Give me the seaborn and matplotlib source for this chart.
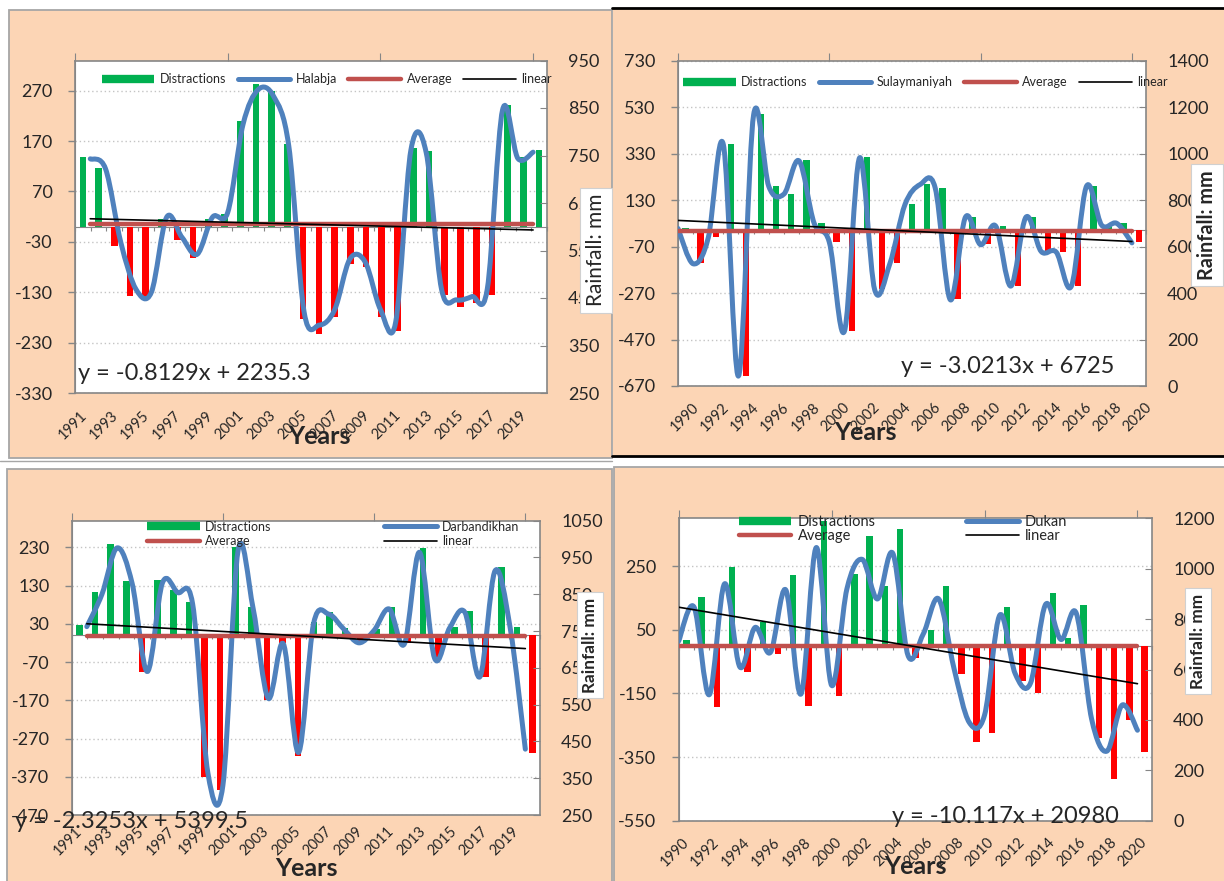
import numpy as np
import pandas as pd
import matplotlib.pyplot as plt
import seaborn as sns
from matplotlib.path import Path
from matplotlib.patches import PathPatch, Rectangle
from matplotlib.lines import Line2D
from matplotlib.transforms import ScaledTranslation

sns.set_style("white")
plt.rcParams['font.family'] = ['Lato', 'DejaVu Sans']
plt.rcParams['axes.unicode_minus'] = False

# ---------------- data ----------------
# Halabja
years_halabja = list(range(1991, 2021))
dev_halabja = [138, 117, -38, -137, -143, 15, -27, -63, 15, 25, 210, 284, 270, 165, -184,
               -212, -180, -73, -79, -179, -206, 157, 151, -136, -159, -152, -136, 241, 139, 152]
rain_halabja = [743, 722, 567, 468, 462, 620, 578, 542, 620, 630, 815, 889, 875, 770, 421,
                393, 425, 532, 526, 426, 399, 762, 756, 469, 446, 453, 469, 846, 744, 757]
avg_halabja = 605
trend_halabja = (-0.8129, 2235.3)

# Sulaymaniyah
years_sulay = list(range(1990, 2021))
dev_sulay = [10, -142, -30, 370, -625, 500, 191, 158, 301, 32, -49, -432, 314, -254, -142,
             113, 199, 184, -297, 59, -60, 20, -238, 59, -89, -92, -238, 192, 24, 32, -52]
rain_sulay = [678, 526, 638, 1038, 43, 1168, 859, 826, 969, 700, 619, 236, 982, 414, 526,
              781, 867, 852, 371, 727, 608, 688, 430, 727, 579, 576, 430, 860, 692, 700, 616]
avg_sulay = 668
trend_sulay = (-3.0213, 6725)

# Darbandikhan
years_darb = list(range(1991, 2021))
dev_darb = [26, 114, 240, 143, -96, 145, 119, 87, -370, -405, 232, 75, -169, -21, -316,
            35, 60, 19, -18, 16, 74, -21, 228, -60, 23, 65, -110, 178, 22, -307]
rain_darb = [762, 850, 976, 879, 640, 881, 855, 823, 366, 331, 968, 811, 567, 715, 420,
             771, 796, 755, 718, 752, 810, 715, 964, 676, 759, 801, 626, 914, 758, 429]
avg_darb = 736
trend_darb = (-2.3253, 5399.5)

# Dukan
years_dukan = list(range(1990, 2021))
dev_dukan = [19, 154, -194, 246, -84, 73, -26, 222, -191, 390, -157, 226, 343, 186, 367,
             -39, 48, 186, -89, -304, -275, 122, -110, -149, 165, 25, 129, -290, -418, -235, -335]
rain_dukan = [713, 848, 500, 940, 610, 767, 668, 916, 503, 1084, 537, 920, 1037, 880, 1061,
              655, 742, 880, 605, 390, 419, 816, 584, 545, 859, 719, 823, 404, 276, 459, 359]
avg_dukan = 694
trend_dukan = (-10.117, 20980)

# ---------------- styling ----------------
GREEN = '#00B050'
RED = '#FF0000'
BLUE = '#4F81BD'
AVG_RED = '#C0504D'
GREY = '#868686'
PEACH = '#FCD5B5'

W, H = 1224, 881
fig = plt.figure(figsize=(W / 100, H / 100), dpi=100)


def fx(px):
    return px / W


def fy(py):
    return 1 - py / H


def rect_px(l, t, r, b):
    return [l / W, 1 - b / H, (r - l) / W, (b - t) / H]


def smooth_path(xs, ys):
    # Excel-like smoothed line (Catmull-Rom through the points)
    pts = np.column_stack([xs, ys]).astype(float)
    n = len(pts)
    verts, codes = [pts[0]], [Path.MOVETO]
    for i in range(n - 1):
        p0 = pts[max(i - 1, 0)]
        p1, p2 = pts[i], pts[i + 1]
        p3 = pts[min(i + 2, n - 1)]
        verts += [p1 + (p2 - p0) / 6, p2 - (p3 - p1) / 6, p2]
        codes += [Path.CURVE4] * 3
    return Path(verts, codes)


# panel backgrounds
def panel_bg(l, t, r, b, ec='#A6A6A6'):
    fig.add_artist(Rectangle((fx(l), fy(b)), (r - l) / W, (b - t) / H, transform=fig.transFigure,
                             facecolor=PEACH, edgecolor=ec, linewidth=1.3, zorder=-2))


panel_bg(9, 10, 612, 458)
panel_bg(613, 8, 1226, 456, ec='none')
panel_bg(7, 469, 612, 884)
panel_bg(614, 467, 1226, 884)
for yy in (8, 456):
    fig.add_artist(Line2D([fx(612), 1], [fy(yy), fy(yy)], transform=fig.transFigure,
                          color='black', lw=2, zorder=-1))
fig.add_artist(Line2D([0, fx(612)], [fy(461), fy(461)], transform=fig.transFigure,
                      color='#A6A6A6', lw=1, zorder=-1))


def draw_panel(name, years, dev, rain, avg, trend, lay):
    ax = fig.add_axes(rect_px(*lay['plot']))
    ax2 = fig.add_axes(rect_px(*lay['plot']), facecolor='none')

    df = pd.DataFrame({'year': years, 'dev': dev})
    df['sign'] = np.where(df['dev'] >= 0, 'up', 'down')
    sns.barplot(data=df, x='year', y='dev', hue='sign', hue_order=['up', 'down'],
                palette={'up': GREEN, 'down': RED}, dodge=False, native_scale=True,
                width=0.42, saturation=1, errorbar=None, legend=False, linewidth=0,
                orient='x', ax=ax)

    y0, y1 = lay['left_lim']
    ax.set_ylim(y0, y1)
    ax.set_xlim(years[0] - 0.5, years[-1] + 0.5)
    ax.set_yticks(list(lay['left_ticks']))
    ax.yaxis.grid(True, linestyle=(0, (1, 2)), color='#C4C4C4', linewidth=1)
    ax.xaxis.grid(False)
    ax.set_axisbelow(True)
    ax.tick_params(axis='y', left=True, direction='out', length=5, width=1, color=GREY,
                   labelsize=13, pad=11)
    label_years = years[::2]
    ax.set_xticks(label_years)
    ax.set_xticklabels([str(y) for y in label_years], rotation=45, ha='right',
                       va='center', rotation_mode='anchor')
    ax.tick_params(axis='x', bottom=True, length=0, labelsize=10.5, pad=lay['xpad'])
    if lay['xshift']:
        off = ScaledTranslation(lay['xshift'] / 100, 0, fig.dpi_scale_trans)
        for t in ax.xaxis.get_major_ticks():
            t.label1.set_transform(t.label1.get_transform() + off)
    for s in ['top', 'right', 'bottom']:
        ax.spines[s].set_visible(False)
    ax.spines['left'].set_color(GREY)
    ax.set_xlabel('')
    ax.set_ylabel('')

    # category axis crossing at zero, with marks between the years
    zax = ax.secondary_xaxis((0 - y0) / (y1 - y0))
    zax.set_alignment('bottom')
    zax.set_ticks(np.arange(years[0] - 0.5, years[-1] + 1))
    zax.tick_params(axis='x', direction='out', length=3, color=GREY, labelbottom=False)
    zax.spines['bottom'].set_color(GREY)

    # secondary axes: rainfall line, average, trend
    sx = np.array(years) - 1990
    ax2.add_patch(PathPatch(smooth_path(sx, rain), fill=False, edgecolor=BLUE, lw=3.6,
                            capstyle='round', joinstyle='round', zorder=3))
    sns.lineplot(x=[sx[0], sx[-1]], y=[avg, avg], color=AVG_RED, lw=3.2,
                 solid_capstyle='round', ax=ax2, zorder=4)
    slope, icpt = trend
    ty = [slope * years[0] + icpt, slope * years[-1] + icpt]
    sns.lineplot(x=[sx[0], sx[-1]], y=ty, color='black', lw=1.2, ax=ax2, zorder=5)

    ax2.set_xlim(0, lay['sec_xmax'])
    ax2.set_ylim(*lay['right_lim'])
    ax2.set_yticks(list(lay['right_ticks']))
    ax2.yaxis.tick_right()
    ax2.tick_params(axis='y', right=True, left=False, direction='in', length=5, color=GREY,
                    labelsize=13, pad=15)
    ax2.xaxis.tick_top()
    ax2.set_xticks([0, 10, 20, 30])
    ax2.tick_params(axis='x', top=True, bottom=False, direction='out', length=6, color=GREY,
                    labeltop=False, labelbottom=False)
    for s in ax2.spines.values():
        s.set_color(GREY)
        s.set_linewidth(1.2)
    ax2.set_xlabel('')
    ax2.set_ylabel('')

    # legend
    h_dis = Line2D([], [], color=GREEN, lw=6, solid_capstyle='butt')
    h_sta = Line2D([], [], color=BLUE, lw=3.6, solid_capstyle='round')
    h_avg = Line2D([], [], color=AVG_RED, lw=3.2, solid_capstyle='round')
    h_lin = Line2D([], [], color='black', lw=1.2)
    lg = lay['legend']
    if lg['ncol'] == 4:
        hs, ls = [h_dis, h_sta, h_avg, h_lin], ['Distractions', name, 'Average', 'linear']
    else:
        hs, ls = [h_dis, h_avg, h_sta, h_lin], ['Distractions', 'Average', name, 'linear']
    ax2.legend(hs, ls, ncol=lg['ncol'], loc='center',
               bbox_to_anchor=(fx(lg['center'][0]), fy(lg['center'][1])),
               bbox_transform=fig.transFigure, frameon=False, fontsize=lg['fontsize'],
               handlelength=lg['handlelength'], handletextpad=0.45,
               columnspacing=lg['columnspacing'], labelspacing=lg['labelspacing'],
               borderpad=0, borderaxespad=0)

    # texts
    ex, ey, eha = lay['eq']
    fig.text(fx(ex), fy(ey), lay['eq_text'], fontsize=17, ha=eha, va='baseline', zorder=6)
    fig.text(fx(lay['years'][0]), fy(lay['years'][1]), 'Years', fontsize=18,
             fontweight='bold', ha='center', va='center', zorder=6)
    bx, by, bsize, bw = lay['rain_box']
    fig.text(fx(bx), fy(by), 'Rainfall: mm', rotation=90, ha='center', va='center',
             fontsize=bsize, fontweight=bw, zorder=7,
             bbox=dict(boxstyle='square,pad=0.3', facecolor='white', edgecolor='#D0D0D0',
                       linewidth=0.8))


layout_halabja = dict(
    plot=(75, 60.5, 547, 393), sec_xmax=30.91,
    left_lim=(-330, 330), left_ticks=range(-330, 271, 100),
    right_lim=(250, 950), right_ticks=range(250, 951, 100),
    xpad=14.5, xshift=1.5,
    legend=dict(ncol=4, center=(327, 79), fontsize=9, handlelength=4.2,
                columnspacing=0.9, labelspacing=0.5),
    eq=(78, 380, 'left'), eq_text='y = -0.8129x + 2235.3',
    years=(319, 437), rain_box=(596, 250, 15, 'normal'))

layout_sulay = dict(
    plot=(678, 60.7, 1146.3, 386), sec_xmax=30.95,
    left_lim=(-670, 730), left_ticks=range(-670, 731, 200),
    right_lim=(0, 1400), right_ticks=range(0, 1401, 200),
    xpad=14, xshift=11,
    legend=dict(ncol=4, center=(925.5, 82), fontsize=9, handlelength=4.2,
                columnspacing=0.9, labelspacing=0.5),
    eq=(1114, 373, 'right'), eq_text='y = -3.0213x + 6725',
    years=(865, 432.5), rain_box=(1207, 225, 14.3, 'bold'))

layout_darb = dict(
    plot=(71.7, 520.7, 540.3, 815), sec_xmax=30.99,
    left_lim=(-470, 300), left_ticks=range(-470, 231, 100),
    right_lim=(250, 1050), right_ticks=range(250, 1051, 100),
    xpad=10, xshift=0,
    legend=dict(ncol=2, center=(333.5, 534), fontsize=9, handlelength=4.2,
                columnspacing=9.0, labelspacing=0.2),
    eq=(15, 828, 'left'), eq_text='y = -2.3253x + 5399.5',
    years=(306, 868), rain_box=(590, 645, 12.4, 'bold'))

layout_dukan = dict(
    plot=(678.7, 518.3, 1152.3, 820.7), sec_xmax=30.97,
    left_lim=(-550, 400), left_ticks=range(-550, 251, 200),
    right_lim=(0, 1200), right_ticks=range(0, 1201, 200),
    xpad=14, xshift=0,
    legend=dict(ncol=2, center=(903, 529), fontsize=10.5, handlelength=3.6,
                columnspacing=6.2, labelspacing=0.05),
    eq=(1119, 823, 'right'), eq_text='y = -10.117x + 20980',
    years=(915, 867), rain_box=(1198, 641, 12.4, 'bold'))

draw_panel('Halabja', years_halabja, dev_halabja, rain_halabja, avg_halabja,
           trend_halabja, layout_halabja)
draw_panel('Sulaymaniyah', years_sulay, dev_sulay, rain_sulay, avg_sulay,
           trend_sulay, layout_sulay)
draw_panel('Darbandikhan', years_darb, dev_darb, rain_darb, avg_darb,
           trend_darb, layout_darb)
draw_panel('Dukan', years_dukan, dev_dukan, rain_dukan, avg_dukan,
           trend_dukan, layout_dukan)

fig.savefig('out.png', dpi=100)
